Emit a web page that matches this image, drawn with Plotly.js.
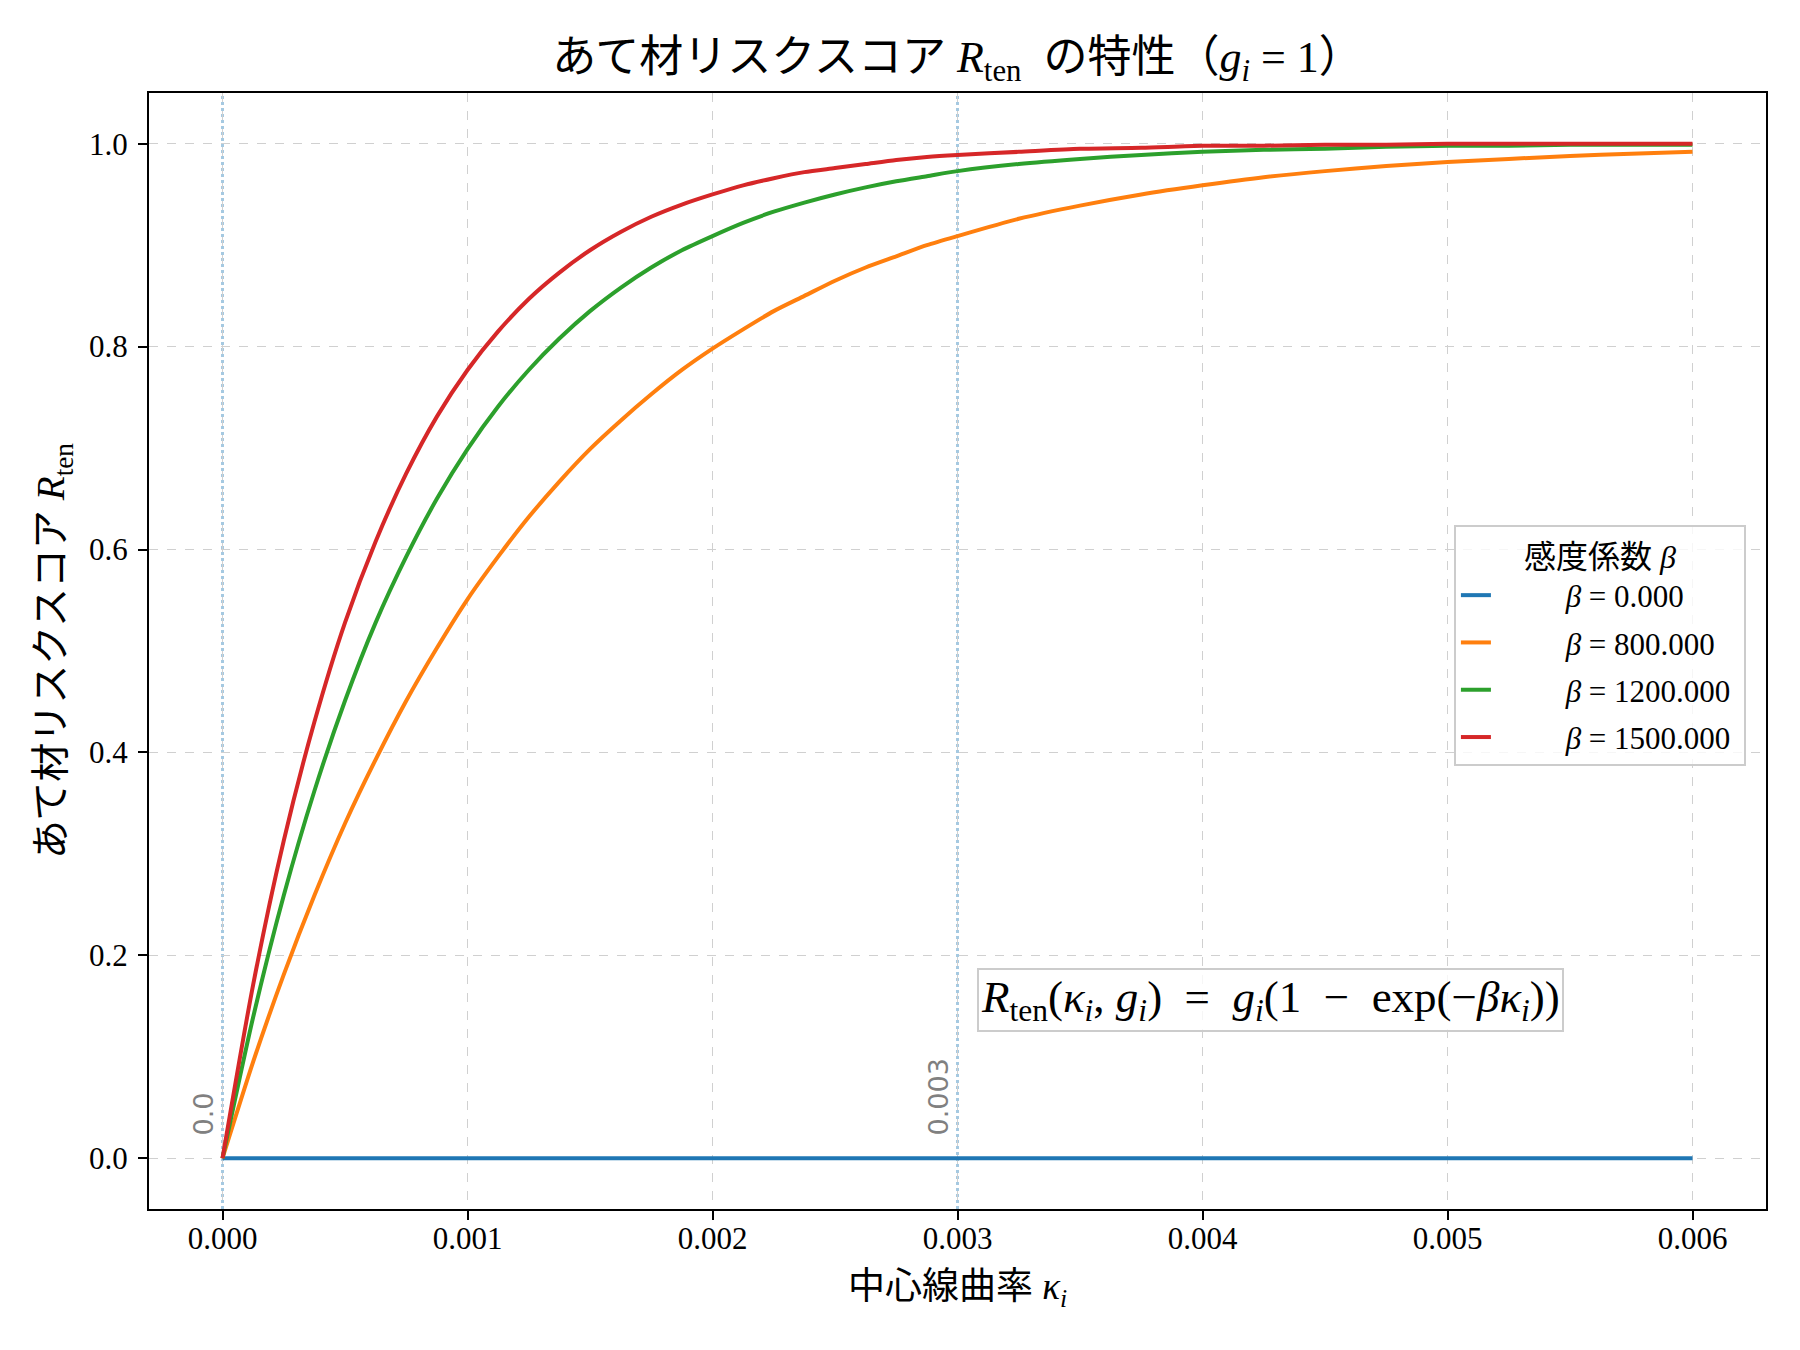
<!DOCTYPE html>
<html>
<head>
<meta charset="utf-8">
<script src="https://cdn.plot.ly/plotly-3.0.1.min.js"></script>
<style>html,body{margin:0;padding:0;background:#fff;}#chart{width:1800px;height:1350px;}</style>
</head>
<body>
<div id="chart"></div>
<script>
// curvature kappa_i (finer where the curves bend sharply)
var kappa = [0, 0.000125, 0.00025, 0.000375, 0.0005, 0.000625, 0.00075, 0.000875, 0.001,
  0.001125, 0.00125, 0.001375, 0.0015, 0.001625, 0.00175, 0.001875, 0.002,
  0.002125, 0.00225, 0.002375, 0.0025, 0.002625, 0.00275, 0.002875, 0.003,
  0.00325, 0.0035, 0.00375, 0.004, 0.00425, 0.0045, 0.00475, 0.005, 0.00525, 0.0055, 0.00575, 0.006];

// read values of R_ten for each beta
var rBeta0 = [0, 0, 0, 0, 0, 0, 0, 0, 0, 0, 0, 0, 0, 0, 0, 0, 0, 0, 0, 0, 0, 0, 0, 0, 0,
  0, 0, 0, 0, 0, 0, 0, 0, 0, 0, 0, 0];
var rBeta800 = [0, 0.095, 0.181, 0.259, 0.330, 0.393, 0.451, 0.503, 0.551,
  0.593, 0.632, 0.667, 0.699, 0.727, 0.753, 0.777, 0.798,
  0.817, 0.835, 0.850, 0.865, 0.878, 0.889, 0.900, 0.909,
  0.926, 0.939, 0.950, 0.959, 0.967, 0.973, 0.978, 0.982, 0.985, 0.988, 0.990, 0.992];
var rBeta1200 = [0, 0.139, 0.259, 0.362, 0.451, 0.528, 0.593, 0.650, 0.699,
  0.741, 0.777, 0.808, 0.835, 0.858, 0.878, 0.895, 0.909,
  0.922, 0.933, 0.942, 0.950, 0.957, 0.963, 0.968, 0.973,
  0.980, 0.985, 0.989, 0.992, 0.994, 0.995, 0.997, 0.998, 0.998, 0.999, 0.999, 0.999];
var rBeta1500 = [0, 0.171, 0.313, 0.430, 0.528, 0.608, 0.675, 0.731, 0.777,
  0.815, 0.847, 0.873, 0.895, 0.913, 0.928, 0.940, 0.950,
  0.959, 0.966, 0.972, 0.976, 0.980, 0.984, 0.987, 0.989,
  0.992, 0.995, 0.996, 0.998, 0.998, 0.999, 0.999, 1.000, 1.000, 1.000, 1.000, 1.000];

var seriesNames = ['<i>β</i> = 0.000', '<i>β</i> = 800.000', '<i>β</i> = 1200.000', '<i>β</i> = 1500.000'];
var seriesColors = ['#1f77b4', '#ff7f0e', '#2ca02c', '#d62728'];
var seriesValues = [rBeta0, rBeta800, rBeta1200, rBeta1500];

// reference vertical lines
var refLines = [0, 0.003];
var refLabels = ['0.0', '0.003'];

var xTicks = [0, 0.001, 0.002, 0.003, 0.004, 0.005, 0.006];
var yTicks = [0, 0.2, 0.4, 0.6, 0.8, 1.0];

var SERIF = "'Liberation Serif', 'Noto Sans CJK JP', serif";
var SP = '&nbsp;';

var traces = seriesValues.map(function (vals, i) {
  return {
    x: kappa, y: vals, type: 'scatter', mode: 'lines',
    name: SP.repeat(9) + seriesNames[i] + SP, legendgroup: 'g' + i,
    line: {color: seriesColors[i], width: 4, shape: 'spline', smoothing: 0.7}
  };
});

var shapes = refLines.map(function (v) {
  return {type: 'line', xref: 'x', yref: 'paper', x0: v, x1: v, y0: 0, y1: 1,
    line: {color: 'rgba(31,119,180,0.4)', width: 3, dash: 'dot'}, layer: 'below'};
});

var annotations = refLines.map(function (v, i) {
  return {x: v, y: 0.02, xref: 'x', yref: 'y', text: refLabels[i], showarrow: false,
    textangle: -90, xanchor: 'right', yanchor: 'bottom', xshift: -2,
    font: {family: "'DejaVu Sans', sans-serif", size: 27, color: '#808080'}};
});

annotations.push({
  xref: 'paper', yref: 'paper', x: 0.512, y: 0.1586, xanchor: 'left', yanchor: 'bottom',
  text: '<i>R</i><sub>ten</sub>(<i>κ<sub>i</sub></i>,' + SP + '<i>g<sub>i</sub></i>)' + SP + SP + '=' + SP + SP +
    '<i>g<sub>i</sub></i>(1' + SP + SP + '−' + SP + SP + 'exp(−<i>βκ<sub>i</sub></i>))',
  showarrow: false, bgcolor: 'rgba(255,255,255,0.8)', bordercolor: '#cccccc', borderwidth: 2,
  borderpad: 2, font: {family: SERIF, size: 45, color: '#000'}
});

var layout = {
  width: 1800, height: 1350,
  paper_bgcolor: '#ffffff', plot_bgcolor: '#ffffff',
  margin: {l: 149, r: 34, t: 93, b: 141},
  showlegend: true,
  title: {
    text: 'あて材リスクスコア' + SP + '<i>R</i><sub>ten</sub>' + SP + SP + 'の特性（<i>g<sub>i</sub></i>' + SP + '=' + SP + '1）',
    font: {family: SERIF, size: 44, color: '#000'},
    x: 0.5, xref: 'paper', xanchor: 'center', y: 0.958, yref: 'container', yanchor: 'middle'
  },
  xaxis: {
    range: [-0.0003, 0.0063], tickvals: xTicks, tickformat: '.3f',
    showline: true, mirror: true, linecolor: '#000', linewidth: 2,
    ticks: 'outside', ticklen: 9, tickwidth: 2, tickcolor: '#000',
    showgrid: true, gridcolor: '#d0d0d0', gridwidth: 1.5, griddash: 'dash',
    zeroline: false, ticklabelstandoff: -8,
    tickfont: {family: SERIF, size: 31, color: '#000'},
    title: {text: '中心線曲率 <i>κ<sub>i</sub></i>', font: {family: SERIF, size: 37, color: '#000'}, standoff: 18}
  },
  yaxis: {
    range: [-0.05, 1.05], tickvals: yTicks, tickformat: '.1f',
    showline: true, mirror: true, linecolor: '#000', linewidth: 2,
    ticks: 'outside', ticklen: 9, tickwidth: 2, tickcolor: '#000',
    showgrid: true, gridcolor: '#d0d0d0', gridwidth: 1.5, griddash: 'dash',
    zeroline: false, ticklabelstandoff: 4,
    tickfont: {family: SERIF, size: 31, color: '#000'},
    title: {text: 'あて材リスクスコア <i>R</i><sub>ten</sub>', font: {family: SERIF, size: 39, color: '#000'}, standoff: 12}
  },
  legend: {
    x: 0.807, y: 0.613, xanchor: 'left', yanchor: 'top',
    bgcolor: 'rgba(255,255,255,0.8)', bordercolor: '#cccccc', borderwidth: 2,
    font: {family: SERIF, size: 31, color: '#000'},
    title: {text: '感度係数 <i>β</i>', side: 'top center', font: {family: SERIF, size: 32, color: '#000'}},
    traceorder: 'grouped', tracegroupgap: 4
  },
  shapes: shapes,
  annotations: annotations
};

Plotly.newPlot('chart', traces, layout, {displayModeBar: false, staticPlot: true});
</script>
</body>
</html>
